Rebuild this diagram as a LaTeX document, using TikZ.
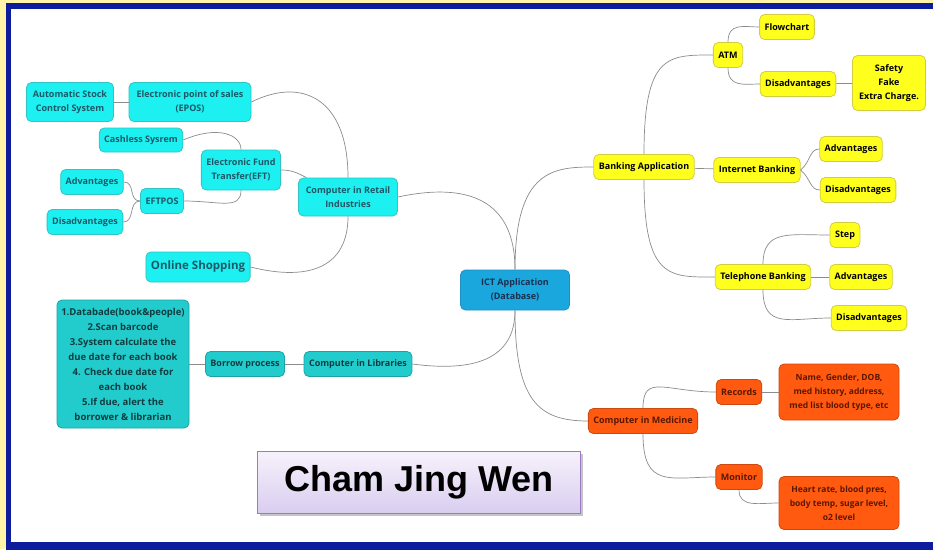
\documentclass[tikz,border=0pt]{standalone}
\usepackage{fontspec}
\setmainfont{Open Sans}
\setsansfont{Liberation Sans}
\usetikzlibrary{shadows}
\definecolor{pageyellow}{HTML}{FFF4A8}
\definecolor{framblue}{HTML}{0C1C9C}
\definecolor{cyanfill}{HTML}{1CF0F0}
\definecolor{cyanedge}{HTML}{30C4C4}
\definecolor{cyantext}{HTML}{1C5868}
\definecolor{tealfill}{HTML}{22CCCC}
\definecolor{tealedge}{HTML}{1AA4A4}
\definecolor{tealtext}{HTML}{0F3C40}
\definecolor{ictfill}{HTML}{1AA7DE}
\definecolor{ictedge}{HTML}{2090C0}
\definecolor{icttext}{HTML}{1C3050}
\definecolor{yelfill}{HTML}{FFFF1E}
\definecolor{yeledge}{HTML}{D4CC40}
\definecolor{orfill}{HTML}{FF5A10}
\definecolor{oredge}{HTML}{CC4A10}
\definecolor{ortext}{HTML}{5A1800}
\definecolor{linkgray}{HTML}{8C8C8C}
\definecolor{namedge}{HTML}{9A7AC0}
\definecolor{namtop}{HTML}{F6F2FB}
\definecolor{nambot}{HTML}{DACDF0}
\tikzset{
  mapbox/.style={rounded corners=5pt, line width=0.8pt, inner xsep=5pt, inner ysep=3pt,
    minimum height=25pt, align=center, font=\fontsize{9}{14}\selectfont\bfseries},
  retail/.style={mapbox, fill=cyanfill, draw=cyanedge, text=cyantext},
  library/.style={mapbox, fill=tealfill, draw=tealedge, text=tealtext},
  bank/.style={mapbox, fill=yelfill, draw=yeledge, text=black},
  medic/.style={mapbox, fill=orfill, draw=oredge, text=ortext},
  link/.style={draw=linkgray, line width=0.7pt},
}
\begin{document}
\begin{tikzpicture}[x=1pt,y=-1pt]
\useasboundingbox (0,0) rectangle (933,549);
% frame
\fill[pageyellow] (0,0) rectangle (933,549);
\fill[framblue] (6,3) rectangle (945,560);
\fill[white] (11,9) rectangle (945,542);

\node[mapbox, fill=ictfill, draw=ictedge, text=icttext, minimum width=109pt, minimum height=40pt] (ict) at (515,290) {ICT Application\\(Database)};

% retail
\node[retail, minimum height=38pt, minimum width=99pt] (retail) at (348,197) {Computer in Retail\\Industries};
\node[retail, minimum height=39pt, minimum width=122pt] (epos) at (190,102) {Electronic point of sales\\(EPOS)};
\node[retail, minimum height=39pt, minimum width=87pt] (stock) at (70,102) {Automatic Stock\\Control System};
\node[retail, minimum height=24pt] (cashless) at (141,140) {Cashless Sysrem};
\node[retail, minimum height=40pt] (eft) at (241,170) {Electronic Fund\\Transfer(EFT)};
\node[retail] (eftpos) at (162,201) {EFTPOS};
\node[retail] (retadv) at (92,182) {Advantages};
\node[retail] (retdis) at (85,222) {Disadvantages};
\node[retail, minimum height=30pt, font=\fontsize{11.5}{13}\selectfont\bfseries] (online) at (198,267) {Online Shopping};

% libraries
\node[library] (libs) at (358,364) {Computer in Libraries};
\node[library] (borrow) at (245,364) {Borrow process};
\node[library, inner xsep=2pt, minimum width=132pt, minimum height=128pt, font=\fontsize{9.5}{15}\selectfont\bfseries] (steps) at (123,364)
  {1.Databade(book\&people)\\2.Scan barcode\\3.System calculate the\\due date for each book\\4. Check due date for\\each book\\5.If due, alert the\\borrower \& librarian};

% banking
\node[bank] (bank) at (644,167) {Banking Application};
\node[bank] (atm) at (728,55) {ATM};
\node[bank] (flow) at (787,27) {Flowchart};
\node[bank] (atmdis) at (798,84) {Disadvantages};
\node[bank, minimum width=73pt, minimum height=55pt, font=\fontsize{9}{14}\selectfont\bfseries] (risks) at (889,83) {Safety\\Fake\\Extra Charge.};
\node[bank] (inet) at (757,170) {Internet Banking};
\node[bank] (inetadv) at (851,149) {Advantages};
\node[bank] (inetdis) at (858,190) {Disadvantages};
\node[bank] (phone) at (763,277) {Telephone Banking};
\node[bank] (tbstep) at (845,235) {Step};
\node[bank] (phoneadv) at (861,277) {Advantages};
\node[bank] (phonedis) at (869,318) {Disadvantages};

% medicine
\node[medic] (med) at (643,421) {Computer in Medicine};
\node[medic] (records) at (739,392) {Records};
\node[medic, inner xsep=2pt, minimum width=120pt, minimum height=56pt, font=\fontsize{8.5}{14}\selectfont\bfseries] (recinfo) at (839,392) {Name, Gender, DOB,\\med history, address,\\med list blood type, etc};
\node[medic] (monitor) at (739,477) {Monitor};
\node[medic, inner xsep=2pt, minimum width=120pt, minimum height=53pt, font=\fontsize{8.5}{14}\selectfont\bfseries] (vitals) at (839,503) {Heart rate, blood pres,\\body temp, sugar level,\\o2 level};

\node[draw=namedge, line width=1pt, top color=namtop, bottom color=nambot, drop shadow={opacity=0.45},
  minimum width=323pt, minimum height=62pt, font=\sffamily\bfseries\fontsize{36}{40}\selectfont] (author) at (419,482) {Cham Jing Wen};

% connectors
\draw[link] (retail.east) .. controls +(70,-15) and +(0,-70) .. (ict.north);
\draw[link] (ict.north) .. controls +(0,-100) and +(-40,0) .. (bank.west);
\draw[link] (ict.south) .. controls +(0,90) and +(-50,0) .. (med.west);
\draw[link] (libs.east) .. controls +(60,8) and +(0,50) .. (ict.south);
\draw[link] (epos.east) .. controls +(50,-25) and +(0,-80) .. (retail.north);
\draw[link] (online.east) .. controls +(60,15) and +(0,50) .. (retail.south);
\draw[link] (eft.east) .. controls +(12,0) and +(-8,-4) .. (retail.155);
\draw[link] (cashless.east) .. controls +(35,-15) and +(0,-15) .. (eft.north);
\draw[link] (eft.south) .. controls +(0,20) and +(35,0) .. (eftpos.east);
\draw[link] (eftpos.west) .. controls +(-12,0) and +(12,0) .. (retadv.east);
\draw[link] (eftpos.west) .. controls +(-12,0) and +(12,0) .. (retdis.east);
\draw[link] (bank.north) .. controls +(0,-100) and +(-45,0) .. (atm.west);
\draw[link] (bank.south) .. controls +(0,100) and +(-45,0) .. (phone.west);
\draw[link] (atm.north) .. controls +(0,-20) and +(-15,0) .. (flow.west);
\draw[link] (atm.south) .. controls +(0,20) and +(-15,0) .. (atmdis.west);
\draw[link] (inet.east) .. controls +(10,-8) and +(-10,0) .. (inetadv.west);
\draw[link] (inet.east) .. controls +(10,8) and +(-10,0) .. (inetdis.west);
\draw[link] (phone.north) .. controls +(0,-35) and +(-40,0) .. (tbstep.west);
\draw[link] (phone.south) .. controls +(0,40) and +(-40,0) .. (phonedis.west);
\draw[link] (med.north) .. controls +(0,-35) and +(-50,0) .. (records.west);
\draw[link] (med.south) .. controls +(0,55) and +(-45,0) .. (monitor.west);
\draw[link] (monitor.south) .. controls +(0,18) and +(-20,0) .. (vitals.west);
\foreach \a/\b in {stock/epos, steps/borrow, borrow/libs, bank/inet, atmdis/risks, phone/phoneadv, records/recinfo}
  \draw[link] (\a) -- (\b);
\end{tikzpicture}
\end{document}
